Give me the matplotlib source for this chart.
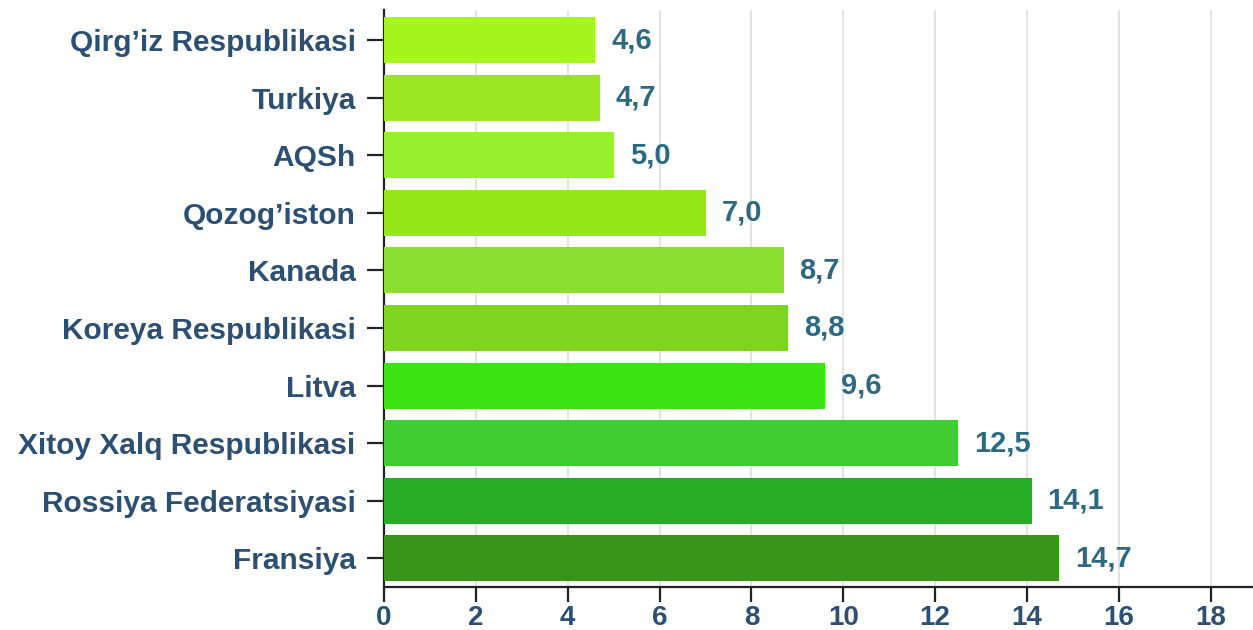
import matplotlib.pyplot as plt
import matplotlib

matplotlib.rcParams['font.family'] = ['Liberation Sans', 'DejaVu Sans']

countries = ['Qirg\u2019iz Respublikasi', 'Turkiya', 'AQSh', 'Qozog\u2019iston', 'Kanada',
             'Koreya Respublikasi', 'Litva', 'Xitoy Xalq Respublikasi',
             'Rossiya Federatsiyasi', 'Fransiya']
values = [4.6, 4.7, 5.0, 7.0, 8.7, 8.8, 9.6, 12.5, 14.1, 14.7]
bar_colors = ['#a4f61e', '#9ae620', '#98ef2e', '#94e818', '#8ade2f',
              '#7fd420', '#3ae312', '#3fcc30', '#25ad26', '#399417']

label_color = '#2c5073'
value_color = '#2d6a82'

fig, ax = plt.subplots(figsize=(12.53, 6.3), dpi=100)
fig.subplots_adjust(left=0.3065, right=1.0, top=0.984, bottom=0.068)

y = list(range(len(countries)))[::-1]
ax.barh(y, values, height=0.8, color=bar_colors, zorder=3)

for yy, v in zip(y, values):
    ax.annotate(('%.1f' % v).replace('.', ','), (v, yy), xytext=(11.5, 0),
                textcoords='offset points', ha='left', va='center',
                fontsize=21, fontweight='bold', color=value_color)

ax.set_yticks(y)
ax.set_yticklabels(countries, fontsize=21.5, fontweight='bold', color=label_color)
ax.set_xticks(range(0, 19, 2))
ax.set_xticklabels([str(t) for t in range(0, 19, 2)], fontsize=20,
                   fontweight='bold', color=label_color)
ax.set_xlim(0, 18.92)
ax.set_ylim(-0.5, 9.52)

ax.grid(axis='x', color='#e0e0e0', linewidth=1.3, zorder=0)
for s in ['top', 'right']:
    ax.spines[s].set_visible(False)
for s in ['left', 'bottom']:
    ax.spines[s].set_color('#222222')
    ax.spines[s].set_linewidth(1.6)
ax.tick_params(axis='y', length=12, width=1.6, color='#222222', pad=8.5)
ax.tick_params(axis='x', length=11, width=1.6, color='#222222', pad=2)

plt.savefig('out.png')
